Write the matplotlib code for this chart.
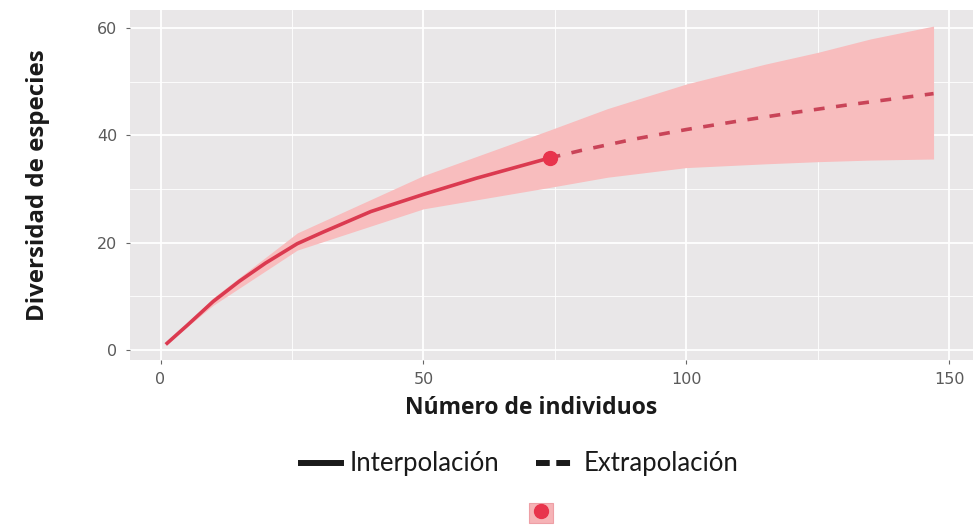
import matplotlib
matplotlib.use("Agg")
import matplotlib.pyplot as plt
from matplotlib.lines import Line2D
from matplotlib.patches import Patch
import numpy as np

# Data
interp_x = [1, 5, 10, 15, 20, 26, 31, 40, 50, 60, 74]
interp_y = [1, 4.5, 9, 12.8, 16.2, 19.8, 22, 25.8, 29, 32, 35.8]
extrap_x = [74, 80, 90, 100, 110, 120, 130, 140, 147]
extrap_y = [35.8, 37.2, 39.3, 41.1, 42.7, 44.2, 45.6, 46.9, 47.8]
band_x = [1, 10, 26, 50, 74, 85, 100, 115, 125, 135, 147]
band_lo = [1, 8.3, 18.6, 26.3, 30.3, 32.2, 34.0, 34.7, 35.1, 35.4, 35.6]
band_hi = [1, 9.7, 21.8, 32.5, 41.0, 45.0, 49.6, 53.3, 55.5, 58.0, 60.4]
obs_x = [74]
obs_y = [35.8]
xticks = [0, 50, 100, 150]
yticks = [0, 20, 40, 60]
x_label = "Número de individuos"
y_label = "Diversidad de especies"
legend_labels = ["Interpolación", "Extrapolación"]

line_col = "#DB3A50"
band_col = "#F8BDBE"

fig = plt.figure(figsize=(9.73, 5.28), dpi=100)
ax = fig.add_axes([130/973, 1-360/528, 843/973, 350/528])
ax.set_facecolor("#E9E7E8")
for s in ax.spines.values():
    s.set_visible(False)

ax.fill_between(band_x, band_lo, band_hi, color=band_col, lw=0, zorder=2)
ax.plot(interp_x, interp_y, color=line_col, lw=2.6, solid_capstyle="butt", zorder=3)
ax.plot(extrap_x, extrap_y, color="#C94458", lw=2.6, dashes=(3, 3.2), zorder=3)
ax.plot(obs_x, obs_y, "o", color="#E8344C", ms=10, zorder=4)

ax.set_xlim(-5.8, 154.5)
ax.set_ylim(-1.9, 63.4)
ax.set_xticks(xticks)
ax.set_yticks(yticks)
ax.set_xticks([25, 75, 125], minor=True)
ax.set_yticks([10, 30, 50], minor=True)
ax.grid(True, which="major", color="white", lw=1.3, zorder=0)
ax.grid(True, which="minor", color="white", lw=0.6, zorder=0)
ax.set_axisbelow(True)
ax.tick_params(which="major", length=3, width=0.8, color="#666666",
               labelcolor="#5a5a5a", labelsize=11.5)
ax.tick_params(axis="x", pad=5.5)
ax.tick_params(axis="y", pad=6)
ax.tick_params(which="minor", length=0)
for lab in ax.get_xticklabels() + ax.get_yticklabels():
    lab.set_family("DejaVu Sans")

ax.set_xlabel(x_label, fontsize=16.5, fontweight="bold", family="Open Sans",
              color="#1a1a1a")
ax.set_ylabel(y_label, fontsize=17.3, fontweight="bold", family="Open Sans",
              color="#1a1a1a")
ax.xaxis.set_label_coords((531-130)/843, -(396-360)/350)
ax.yaxis.set_label_coords((50-130)/843, 0.5)

h1 = Line2D([], [], color="#1a1a1a", lw=4.3)
h2 = Line2D([], [], color="#1a1a1a", lw=4.3, dashes=(2.3, 1.1))
leg = fig.legend([h1, h2], legend_labels, loc="center", bbox_to_anchor=(520/973, 1-464/528),
                 ncol=2, frameon=False, handlelength=1.56, columnspacing=1.44,
                 handletextpad=0.3, prop={"family": "Lato", "size": 18.5})
for t in leg.get_texts():
    t.set_color("#1a1a1a")

hp = (Patch(facecolor="#F6B3B6", edgecolor="#EE9FA5", lw=0.8),
      Line2D([], [], marker="o", color="#E8344C", ms=10, lw=0))
leg2 = fig.legend([hp], [""], loc="center", bbox_to_anchor=(541/973, 1-513/528),
                  frameon=False, handlelength=1.4, handleheight=1.4,
                  handletextpad=0, borderpad=0, prop={"size": 12})

fig.savefig("out.png", dpi=100)
